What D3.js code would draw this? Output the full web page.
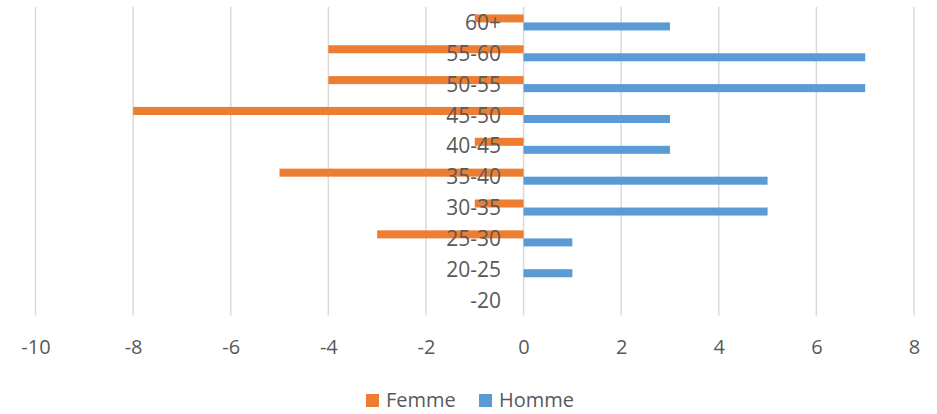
<!DOCTYPE html>
<html>
<head>
<meta charset="utf-8">
<script src="https://cdn.jsdelivr.net/npm/d3@7"></script>
<style>
  body { margin: 0; background: #fff; }
  text { font-family: "Open Sans", sans-serif; fill: #595959; }
</style>
</head>
<body>
<svg id="chart" width="937" height="414"></svg>
<script>
// tranches d'âge, du haut vers le bas
const ages = ["60+", "55-60", "50-55", "45-50", "40-45", "35-40", "30-35", "25-30", "20-25", "-20"];
const femme = [-1, -4, -4, -8, -1, -5, -1, -3, 0, 0];
const homme = [3, 7, 7, 3, 3, 5, 5, 1, 1, 0];
const xTicks = [-10, -8, -6, -4, -2, 0, 2, 4, 6, 8];
const series = ["Femme", "Homme"];
const colors = ["#ED7D31", "#5B9BD5"];

const svg = d3.select("#chart");

const x = d3.scaleLinear().domain([-10, 8]).range([35.5, 914]);
const y = d3.scaleBand().domain(ages).range([7, 315.5])
    .paddingInner(0.48).paddingOuter(0.24);
const half = y.bandwidth() / 2;

// grille verticale
svg.append("g").selectAll("line")
  .data(xTicks)
  .join("line")
    .attr("x1", d => x(d)).attr("x2", d => x(d))
    .attr("y1", 7).attr("y2", 315.5)
    .attr("stroke", "#d9d9d9")
    .attr("stroke-width", 1.5);

// barres femmes (moitié haute) et hommes (moitié basse)
svg.append("g").selectAll("rect")
  .data(ages.map((a, i) => ({ a, v: femme[i] })))
  .join("rect")
    .attr("x", d => x(Math.min(0, d.v)))
    .attr("y", d => y(d.a))
    .attr("width", d => Math.abs(x(d.v) - x(0)))
    .attr("height", half)
    .attr("fill", colors[0]);

svg.append("g").selectAll("rect")
  .data(ages.map((a, i) => ({ a, v: homme[i] })))
  .join("rect")
    .attr("x", d => x(Math.min(0, d.v)))
    .attr("y", d => y(d.a) + half)
    .attr("width", d => Math.abs(x(d.v) - x(0)))
    .attr("height", half)
    .attr("fill", colors[1]);

// libellés des catégories (au-dessus des barres, comme dans l'original)
svg.append("g").selectAll("text")
  .data(ages)
  .join("text")
    .attr("x", 501)
    .attr("y", d => y(d) + half)
    .attr("dy", "0.36em")
    .attr("text-anchor", "end")
    .style("font-size", "21px")
    .text(d => d);

// axe x
const xAxis = svg.append("g")
    .attr("transform", "translate(0,354)")
    .call(d3.axisBottom(x).tickValues(xTicks).tickSize(0).tickPadding(0)
      .tickFormat(d => d < 0 ? "-" + Math.abs(d) : d));
xAxis.select(".domain").remove();
xAxis.selectAll("text")
    .attr("dy", 0)
    .style("font-size", "20px")
    .attr("fill", "#595959");

// légende
const leg = svg.append("g");
const legX = [366, 479];
series.forEach((s, i) => {
  leg.append("rect")
    .attr("x", legX[i]).attr("y", 394)
    .attr("width", 13).attr("height", 13)
    .attr("fill", colors[i]);
  leg.append("text")
    .attr("x", legX[i] + 20).attr("y", 407)
    .style("font-size", "20px")
    .text(s);
});
</script>
</body>
</html>
